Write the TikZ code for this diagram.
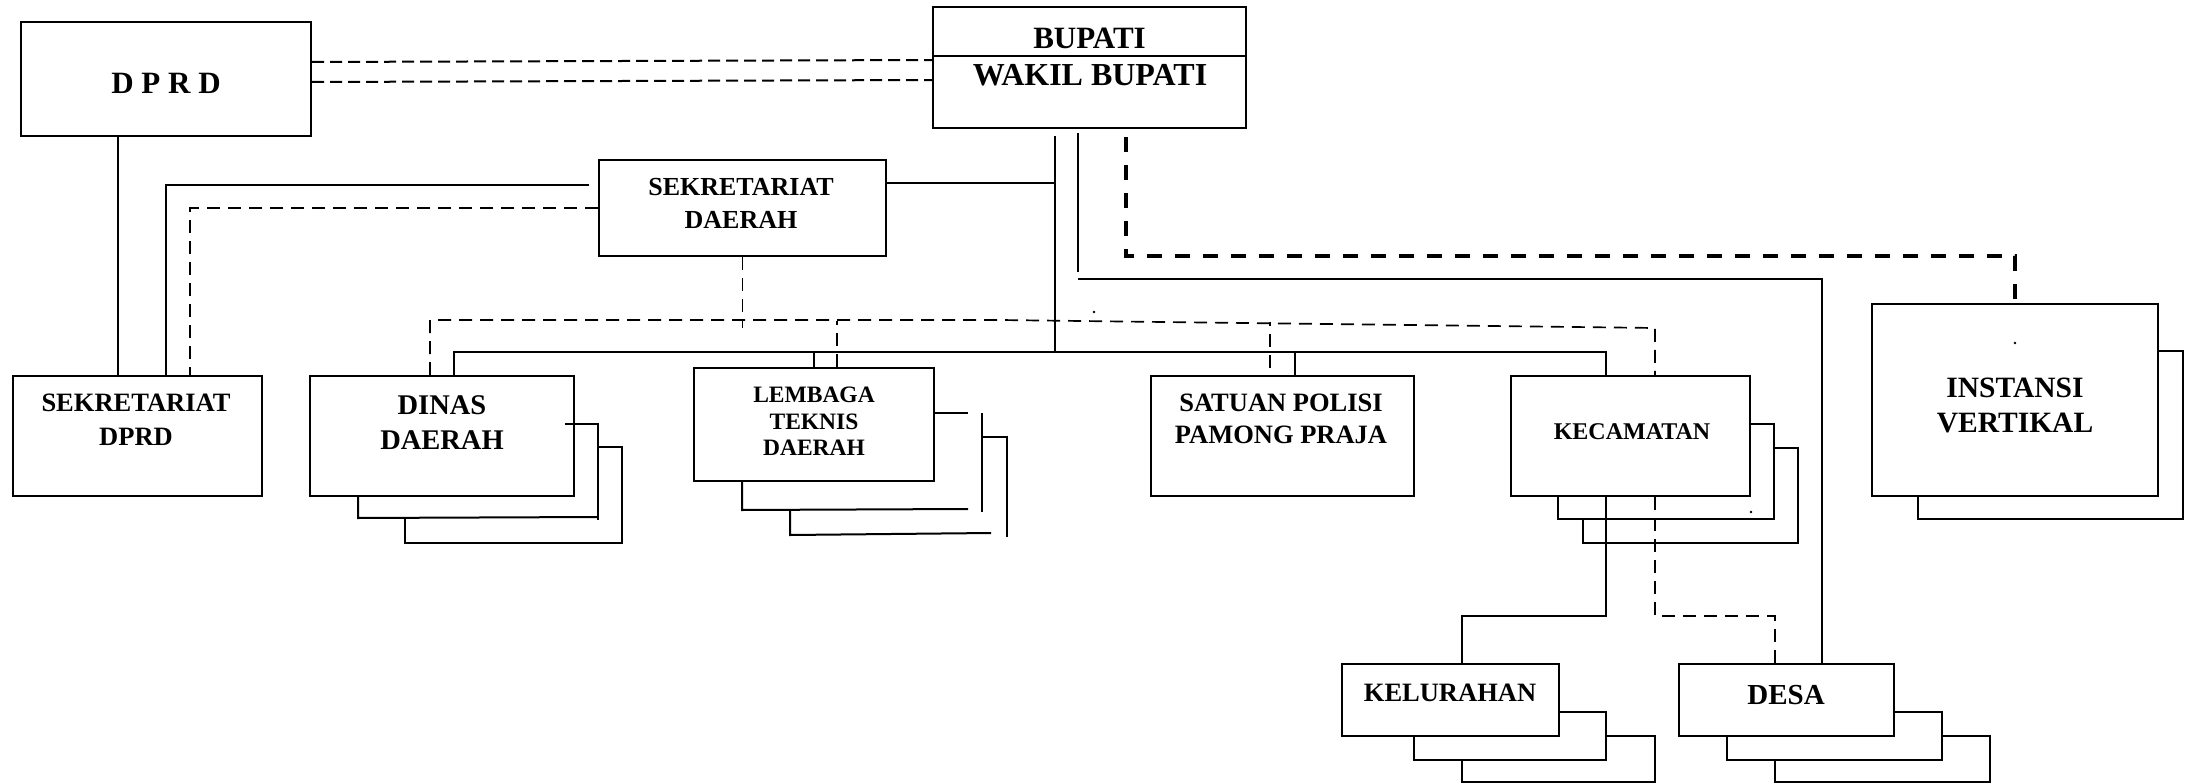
\documentclass[tikz,border=0pt]{standalone}
\usepackage{fontspec}
\setmainfont{Liberation Serif}
\begin{document}
\begin{tikzpicture}[x=1pt,y=-1pt,
	box/.style={draw,line width=2pt,inner sep=0pt},
	txt/.style 2 args={font=\bfseries\fontsize{#1}{#2}\selectfont,align=center,inner sep=0pt},
	conn/.style={line width=1.6pt},
	dline/.style={line width=1.7pt,dash pattern=on 13pt off 8pt},
	tdline/.style={line width=3.5pt,dash pattern=on 15pt off 13pt},
	stack/.style={line width=2pt}]
				\fill[white] (0,0) rectangle (2189,784);
				\node[box,minimum width=290,minimum height=114] (dprd) at (166,79) {};
				\node[box,minimum width=313,minimum height=121] (bupati) at (1089.5,67.5) {};
				\node[box,minimum width=287,minimum height=96] (sekda) at (742.5,208) {};
				\node[box,minimum width=249,minimum height=120] (sekdprd) at (137.5,436) {};
				\node[box,minimum width=264,minimum height=120] (dinas) at (442,436) {};
				\node[box,line width=2.6pt,minimum width=240,minimum height=113] (ltd) at (814,424.5) {};
				\node[box,minimum width=263,minimum height=120] (satpol) at (1282.5,436) {};
				\node[box,minimum width=239,minimum height=120] (kec) at (1630.5,436) {};
				\node[box,minimum width=286,minimum height=192] (instansi) at (2015,400) {};
				\node[box,minimum width=217,minimum height=72] (kel) at (1450.5,700) {};
				\node[box,minimum width=215,minimum height=72] (desa) at (1786.5,700) {};
				\node[txt={31}{37}] (dprdtxt) at (166,83) {D P R D};
				\node[txt={31}{37}] (bupatitxt) at (1089.5,38) {BUPATI};
				\node[txt={32}{37}] (wakiltxt) at (1090,75.5) {WAKIL BUPATI};
				\node[txt={26}{33}] (sekdatxt) at (741,203.5) {SEKRETARIAT\\DAERAH};
				\node[txt={26.5}{34}] (sekdprdtxt) at (136,420) {SEKRETARIAT\\DPRD};
				\node[txt={28.5}{35}] (dinastxt) at (442,422.5) {DINAS\\DAERAH};
				\node[txt={23.5}{26.5}] (ltdtxt) at (814,421.5) {LEMBAGA\\TEKNIS\\DAERAH};
				\node[txt={26.5}{32}] (satpoltxt) at (1281,419) {SATUAN POLISI\\PAMONG PRAJA};
				\node[txt={24}{29}] (kectxt) at (1632,432) {KECAMATAN};
				\node[txt={29.5}{35}] (instansitxt) at (2015,405.5) {INSTANSI\\VERTIKAL};
				\node[txt={26.5}{32}] (keltxt) at (1450,693) {KELURAHAN};
				\node[txt={29}{35}] (desatxt) at (1786,695) {DESA};
				\draw[line width=2pt] (bupati.west |- 0,56) -- (bupati.east |- 0,56);
				\coordinate (bus) at (1055,352);
				\draw[dline,line width=2pt,dash pattern=on 12pt off 6pt] (dprd.east |- 0,62) -- (bupati.west |- 0,60);
				\draw[dline,line width=2pt,dash pattern=on 12pt off 6pt] (dprd.east |- 0,82) -- (bupati.west |- 0,80);
				\draw[conn] (dprd.south -| 118,0) -- (sekdprd.north -| 118,0);
				\draw[conn,shorten <=9pt] (sekda.west |- 0,185) -| (sekdprd.north -| 166,0);
				\draw[dline] (sekda.west |- 0,208) -| (sekdprd.north -| 190,0);
				\draw[conn] (sekda.east |- 0,183) -- (bus |- 0,183);
				\draw[conn,shorten <=7pt] (bupati.south -| bus) -- (bus);
				\draw[conn] (dinas.north -| 454,0) |- (bus) -| (kec.north -| 1606,0);
				\draw[conn] (ltd.north) -- (ltd.north |- bus);
				\draw[conn] (satpol.north -| 1295,0) -- (bus -| 1295,0);
				\draw[conn,line width=2pt,shorten <=4pt] (bupati.south -| 1078,0) -- (1078,272);
				\draw[line width=2.4pt] (1078,279) -| (desa.north -| 1822,0);
				\draw[tdline,shorten <=8pt] (bupati.south -| 1126,0) |- (instansi.north |- 0,256) -- (instansi.north);
				\draw[dline] (sekda.south) -- (sekda.south |- 0,328);
				\draw[dline] (dinas.north -| 430,0) |- (1000,320) -- (1655,328) -- (kec.north -| 1655,0);
				\draw[dline] (ltd.north -| 837,0) -- (837,321);
				\draw[dline,shorten <=7pt] (satpol.north -| 1270,0) -- (1270,322);
				\draw[conn] (kec.south -| 1606,0) -- (1606,616) -| (kel.north -| 1462,0);
				\draw[dline] (kec.south -| 1655,0) -- (1655,616) -| (desa.north -| 1775,0);
				\draw[stack] (565,424) -- (598,424) -- (598,520);
				\draw[stack] (358,496) -- (358,518) -- (598,517);
				\draw[stack] (598,447) -| (622,543) -| (405,518);
				\draw[stack] (934,413) -- (968,413);
				\draw[stack] (982,413) -- (982,512);
				\draw[stack] (742,481) -- (742,510) -- (968,509);
				\draw[stack] (982,437) -| (1007,537);
				\draw[stack] (790,510) -- (790,535) -- (991,533);
				\draw[stack] (1750,424) -| (1774,519) -| (1558,496);
				\draw[stack] (1774,448) -| (1798,543) -| (1583,519);
				\draw[stack] (2158,351) -| (2183,519) -| (1918,496);
				\draw[stack] (1559,712) -| (1606,760) -| (1414,736);
				\draw[stack] (1606,736) -| (1655,782) -| (1462,760);
				\draw[stack] (1894,712) -| (1942,760) -| (1727,736);
				\draw[stack] (1942,736) -| (1990,782) -| (1775,760);
				\fill (1094,312) circle (1.3);
				\fill (2015,343) circle (1.3);
				\fill (1751,512) circle (1.3);
\end{tikzpicture}
\end{document}
